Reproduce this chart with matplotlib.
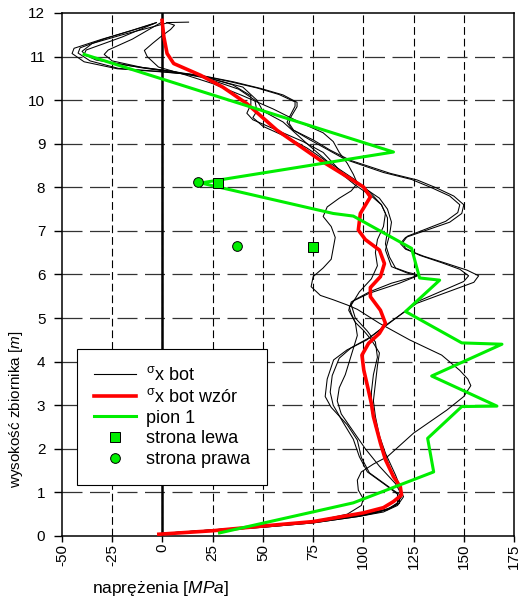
import matplotlib
matplotlib.use('Agg')
import matplotlib.pyplot as plt
from matplotlib.lines import Line2D

plt.rcParams['font.family'] = ['Liberation Sans', 'DejaVu Sans']
plt.rcParams['mathtext.fontset'] = 'custom'
plt.rcParams['mathtext.rm'] = 'Liberation Sans'
plt.rcParams['mathtext.it'] = 'Liberation Sans:italic'
plt.rcParams['axes.unicode_minus'] = False

# naprezenia sigma_x bot z MES - kilka przekrojow
bot_a_x = [0, 25, 50, 75, 92, 99, 100, 97.5, 97, 99, 105, 112, 125, 141.6, 150, 153.5, 152, 148, 139, 123,
           108, 97, 92, 85, 78.6, 74, 75, 80, 84, 85, 86, 84, 80, 82, 88, 94, 97, 95, 92, 88, 85, 80, 68,
           55, 40, 25, 10, -2, -7.6, -9, -5, -1, 4, 6, 2, 13]
bot_a_y = [0.05, 0.13, 0.22, 0.33, 0.5, 0.7, 0.85, 1.05, 1.28, 1.47, 1.65, 1.82, 2.36, 2.89, 3.2, 3.45, 3.6,
           3.8, 4.15, 4.5, 4.88, 5.2, 5.3, 5.42, 5.52, 5.72, 5.95, 6.15, 6.35, 6.6, 6.85, 7.1, 7.33, 7.55,
           7.75, 7.92, 8.09, 8.3, 8.55, 8.8, 9.05, 9.25, 9.5, 9.8, 10.1, 10.38, 10.6, 10.76, 11.0, 11.14,
           11.3, 11.45, 11.62, 11.72, 11.78, 11.79]

bot_b_x = [0, 25, 50, 75, 100, 112, 118, 118, 112, 103, 99, 97, 92, 84, 81, 82, 85.2, 91.9, 101.8, 110,
           126.7, 145, 155, 157.4, 151.6, 141.6, 130, 121, 118.4, 121, 131.7, 143, 149, 150, 145, 136.7,
           126.7, 113.4, 93.5, 83.6, 75.3, 65.3, 63, 64, 67, 67, 60, 48.8, 35.4, 19, -1, -22.5, -39, -45,
           -44, -30, -15, -4]
bot_b_y = [0.06, 0.14, 0.22, 0.32, 0.48, 0.6, 0.75, 0.95, 1.15, 1.45, 1.8, 2.2, 2.55, 2.95, 3.2, 3.6, 4.04,
           4.27, 4.5, 4.8, 5.34, 5.65, 5.82, 5.97, 6.1, 6.25, 6.42, 6.58, 6.71, 6.85, 7.02, 7.2, 7.4, 7.6,
           7.8, 7.98, 8.17, 8.32, 8.62, 8.85, 9.08, 9.31, 9.47, 9.62, 9.85, 9.95, 10.12, 10.27, 10.42,
           10.57, 10.65, 10.72, 10.88, 11.07, 11.19, 11.4, 11.6, 11.76]

bot_c_x = [0, 25, 50, 75, 100, 112, 117, 117, 111, 102, 98, 95, 90, 85, 83.5, 84.5, 88, 94, 103, 112,
           127, 142, 150, 152.4, 148, 139, 128, 121, 119.5, 122, 131, 141, 147, 148, 143, 134, 124, 110,
           91, 82, 73, 64.5, 62, 63.5, 66, 66, 58, 47, 33, 17, -2, -22, -36, -42, -41, -28, -14, -3]
bot_c_y = [0.06, 0.14, 0.22, 0.32, 0.49, 0.61, 0.76, 0.96, 1.17, 1.47, 1.82, 2.22, 2.6, 3.0, 3.3, 3.68, 4.08,
           4.32, 4.55, 4.85, 5.38, 5.68, 5.84, 5.97, 6.12, 6.27, 6.44, 6.6, 6.73, 6.88, 7.04, 7.22, 7.42,
           7.6, 7.8, 7.99, 8.18, 8.34, 8.64, 8.87, 9.1, 9.33, 9.49, 9.64, 9.86, 9.96, 10.13, 10.28, 10.43,
           10.58, 10.66, 10.73, 10.9, 11.08, 11.2, 11.42, 11.62, 11.78]

bot_d_x = [0, 25, 50, 75, 100, 113, 117, 119, 116, 108, 101, 95, 89, 87, 88, 91, 93, 95, 97, 96, 94, 93,
           95, 103, 114, 124, 127.5, 122, 116, 113, 111, 112, 112, 109, 103, 95, 82, 72, 60, 50, 47, 40,
           22, 5, -10, -25, -38, -40, -35, -20, -5, 3]
bot_d_y = [0.06, 0.14, 0.23, 0.33, 0.5, 0.63, 0.75, 0.95, 1.2, 1.6, 2.0, 2.4, 2.8, 3.1, 3.4, 3.7, 4.0, 4.3,
           4.6, 4.9, 5.1, 5.25, 5.4, 5.6, 5.8, 5.93, 5.99, 6.05, 6.15, 6.4, 6.7, 7.0, 7.3, 7.6, 7.9, 8.2,
           8.6, 9.0, 9.5, 9.75, 10.0, 10.3, 10.52, 10.64, 10.74, 10.86, 11.02, 11.12, 11.3, 11.5, 11.68,
           11.78]

bot_e_x = [0, 25, 50, 75, 98, 108, 116, 119, 119, 116, 111, 108, 106, 105, 106, 107, 108, 104, 100, 96,
           92.7, 94, 103, 118, 127, 122, 114, 111, 113, 114, 112, 108, 100, 90, 85, 80, 70, 55, 45, 42, 44,
           44, 35, 20, 5, -15, -33, -39, -38, -20, -3]
bot_e_y = [0.05, 0.12, 0.2, 0.3, 0.45, 0.55, 0.7, 0.9, 1.05, 1.4, 1.9, 2.3, 2.74, 3.1, 3.5, 3.9, 4.2, 4.5,
           4.72, 4.9, 5.18, 5.37, 5.57, 5.8, 5.97, 6.03, 6.18, 6.56, 6.9, 7.2, 7.5, 7.75, 8.0, 8.3, 8.55,
           8.8, 9.05, 9.35, 9.55, 9.7, 9.9, 10.1, 10.35, 10.55, 10.66, 10.78, 10.92, 11.05, 11.15, 11.45,
           11.78]

bot_f_x = [0, 25, 50, 75, 98, 110, 117, 120, 118, 113, 109, 106, 104, 104, 105, 107, 106, 102, 96, 94, 98,
           104, 107, 106, 107, 110, 111, 109, 104, 96, 88, 80, 72, 62, 50, 45, 47, 46, 38, 22, 5, -10, -25,
           -29, -27, -15, 0]
bot_f_y = [0.05, 0.12, 0.2, 0.3, 0.45, 0.55, 0.7, 0.9, 1.1, 1.6, 2.1, 2.5, 2.9, 3.3, 3.7, 4.1, 4.45, 4.7,
           5.0, 5.3, 5.6, 5.9, 6.2, 6.5, 6.8, 7.1, 7.4, 7.6, 7.8, 8.05, 8.35, 8.65, 8.9, 9.15, 9.4, 9.6,
           9.75, 10.0, 10.25, 10.5, 10.66, 10.75, 10.9, 11.05, 11.15, 11.4, 11.8]

bot_curves = [(bot_a_x, bot_a_y), (bot_b_x, bot_b_y), (bot_c_x, bot_c_y),
              (bot_d_x, bot_d_y), (bot_e_x, bot_e_y), (bot_f_x, bot_f_y)]

# sigma_x bot ze wzoru
wzor_x = [-1.8, 25, 50.4, 75, 100, 110, 115, 119, 118.4, 115, 111, 108.5, 105, 104, 102, 100.2, 99.3, 102.6,
          108, 111, 108.5, 103.5, 103.5, 108.5, 110.5, 108, 101, 97.5, 98.5, 103.5, 100, 92, 78.6, 57, 42, 30,
          19, 5.6, 2.3, 0.7, -0.2]
wzor_y = [0.04, 0.12, 0.23, 0.33, 0.53, 0.65, 0.79, 0.94, 1.13, 1.36, 1.75, 2.13, 2.74, 3.04, 3.45, 3.81,
          4.15, 4.42, 4.65, 4.88, 5.18, 5.49, 5.7, 5.95, 6.25, 6.56, 6.8, 7.02, 7.4, 7.78, 8.01, 8.24, 8.62,
          9.31, 9.92, 10.3, 10.57, 10.84, 11.07, 11.45, 11.83]

# pomiar - pion 1
pion_x = [28.4, 95, 135, 132, 149, 166.5, 134, 169, 149, 121, 138, 128, 124, 95, 85, 19, 115, -39]
pion_y = [0.07, 0.76, 1.47, 2.24, 2.97, 2.98, 3.67, 4.40, 4.43, 5.15, 5.87, 5.92, 6.60, 7.34, 7.40, 8.10,
          8.81, 11.05]

lewa_x = [27.4, 74.8]
lewa_y = [8.10, 6.63]
prawa_x = [17.5, 37.2]
prawa_y = [8.12, 6.65]

fig = plt.figure(figsize=(5.19, 6.01), dpi=100)
ax = fig.add_axes([0.1195, 0.1082, 0.8709, 0.8702])

for x in range(-25, 175, 25):
    ax.axvline(x, color='black', lw=0.8, dashes=(7, 3.5), zorder=1)
for y in range(1, 12):
    ax.axhline(y, color='#333333', lw=0.9, dashes=(16, 6), zorder=1)
ax.axvline(0, color='black', lw=1.8, zorder=2)

for bx, by in bot_curves:
    ax.plot(bx, by, color='black', lw=0.75, zorder=3)
ax.plot(wzor_x, wzor_y, color='#ff0000', lw=2.6, zorder=4)
ax.plot(pion_x, pion_y, color='#00ee00', lw=2.2, zorder=5)
ax.plot(lewa_x, lewa_y, 's', ms=7, mfc='#00ee00', mec='black', mew=0.7, zorder=6)
ax.plot(prawa_x, prawa_y, 'o', ms=7, mfc='#00ee00', mec='black', mew=0.7, zorder=6)

ax.set_xlim(-50, 175)
ax.set_ylim(0, 12)
ax.set_xticks(range(-50, 176, 25))
ax.set_yticks(range(0, 13))
ax.tick_params(direction='out', width=1, labelsize=11)
ax.tick_params(axis='y', length=6, pad=6)
ax.tick_params(axis='x', length=4, pad=1.5)
plt.setp(ax.get_xticklabels(), rotation=90)
for s in ax.spines.values():
    s.set_linewidth(1.1)

handles = [
    Line2D([], [], color='black', lw=0.8),
    Line2D([], [], color='#ff0000', lw=2.6),
    Line2D([], [], color='#00ee00', lw=2.2),
    Line2D([], [], ls='none', marker='s', ms=7, mfc='#00ee00', mec='black', mew=0.7),
    Line2D([], [], ls='none', marker='o', ms=7, mfc='#00ee00', mec='black', mew=0.7),
]
labels = [r'$^{\mathrm{\sigma}}$x bot', r'$^{\mathrm{\sigma}}$x bot wzór', 'pion 1', 'strona lewa',
          'strona prawa']
leg = ax.legend(handles, labels, loc='lower left', bbox_to_anchor=(0.033, 0.0975), borderaxespad=0,
                fontsize=13, fancybox=False, framealpha=1, edgecolor='black', handlelength=2.3,
                handletextpad=0.55, labelspacing=0.2, borderpad=0.95)
leg.get_frame().set_linewidth(0.8)
leg.set_zorder(10)

fig.text(0.309, 0.0216, r'naprężenia $\mathit{[MPa]}$', ha='center', va='center', fontsize=12.5)
fig.text(0.031, 0.3195, r'wysokość zbiornika $\mathit{[m]}$', ha='center', va='center',
         rotation=90, fontsize=11)

fig.savefig('out.png', dpi=100)
